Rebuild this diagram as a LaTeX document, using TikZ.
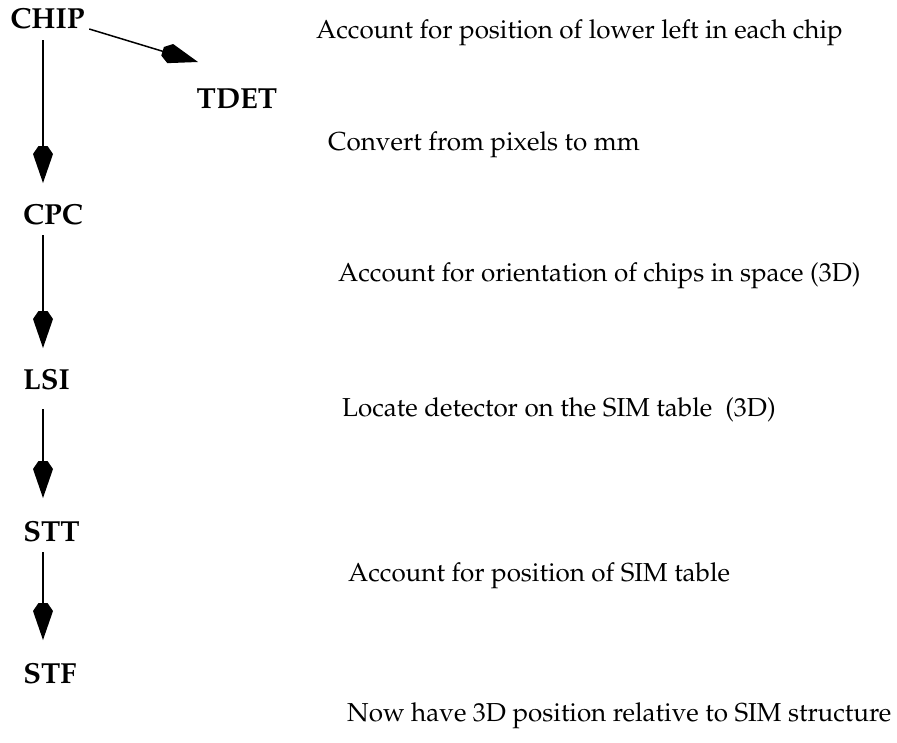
\documentclass[tikz,border=0pt]{standalone}
\usepackage[T1]{fontenc}
\usepackage{mathpazo}
\usetikzlibrary{arrows.meta}
% Filled pentagonal arrow head: short flat back, widest near the back, long point
\pgfdeclarearrow{
  name = Pent,
  setup code = {
    \pgfarrowssettipend{0pt}
    \pgfarrowssetbackend{-37pt}
    \pgfarrowssetlineend{-30pt}
    \pgfarrowsupperhullpoint{-37pt}{4.5pt}
    \pgfarrowsupperhullpoint{-29pt}{10pt}
    \pgfarrowsupperhullpoint{0pt}{0pt}
  },
  drawing code = {
    \pgfpathmoveto{\pgfpoint{0pt}{0pt}}
    \pgfpathlineto{\pgfpoint{-29pt}{10pt}}
    \pgfpathlineto{\pgfpoint{-37pt}{4.5pt}}
    \pgfpathlineto{\pgfpoint{-37pt}{-4.5pt}}
    \pgfpathlineto{\pgfpoint{-29pt}{-10pt}}
    \pgfpathclose
    \pgfusepathqfill
  },
}
\begin{document}
\begin{tikzpicture}[x=1pt,y=-1pt,
  lbl/.style={font=\fontsize{29}{33}\selectfont\bfseries,inner sep=0pt,anchor=base},
  note/.style={font=\fontsize{26}{30}\selectfont,inner sep=0pt,anchor=base west},
  flow/.style={line width=1.5pt,-Pent}]
\useasboundingbox (0,0) rectangle (897,742);
\coordinate (col) at (43,0);
% frame labels
\node[lbl] (chip) at (47.5,28) {CHIP};
\node[lbl] (tdet) at (237,108) {TDET};
\node[lbl] (cpc) at (53,224) {CPC};
\node[lbl] (lsi) at (46.5,389) {LSI};
\node[lbl] (stt) at (51.5,541) {STT};
\node[lbl] (stf) at (50,683) {STF};
% transformation notes
\node[note] (n1) at (316,38) {Account for position of lower left in each chip};
\node[note] (n2) at (328,150) {Convert from pixels to mm};
\node[note] (n3) at (338,281) {Account for orientation of chips in space (3D)};
\node[note] (n4) at (342,416) {Locate detector on the SIM table\ \ (3D)};
\node[note] (n5) at (348,581) {Account for position of SIM table};
\node[note] (n6) at (347,721) {Now have 3D position relative to SIM structure};
% arrows
\draw[flow] ([yshift=-12pt]chip.base -| col) -- ([yshift=41pt]cpc.base -| col);
\draw[flow] ([yshift=-11pt]cpc.base -| col) -- ([yshift=41pt]lsi.base -| col);
\draw[flow] ([yshift=-20pt]lsi.base -| col) -- ([yshift=43pt]stt.base -| col);
\draw[flow] ([yshift=-11pt]stt.base -| col) -- ([yshift=43pt]stf.base -| col);
\draw[flow] ([xshift=4.5pt,yshift=-1pt]chip.base east) -- ([xshift=-39pt,yshift=46pt]tdet.base);
\end{tikzpicture}
\end{document}
